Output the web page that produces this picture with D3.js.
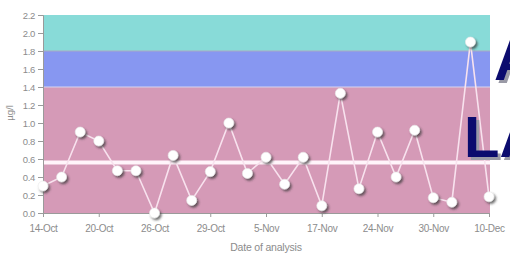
<!DOCTYPE html>
<html>
<head>
<meta charset="utf-8">
<script src="https://cdn.jsdelivr.net/npm/d3@7"></script>
<style>
  body { margin: 0; background: #fff; }
  svg { display: block; }
  .axis text { font-family: "Liberation Sans", Arial, sans-serif; fill: #8c8c8c; }
  .axis path, .axis line { stroke: #9a9a9a; }
</style>
</head>
<body>
<div id="figure"></div>
<script>
// measured values, one per analysis date
var values = [0.30, 0.40, 0.90, 0.80, 0.47, 0.47, 0.00, 0.64, 0.14, 0.46, 1.00, 0.44, 0.62,
              0.32, 0.62, 0.08, 1.33, 0.27, 0.90, 0.40, 0.92, 0.17, 0.12, 1.90, 0.18];
var tickIdx = [0, 3, 6, 9, 12, 15, 18, 21, 24];
var tickLabels = ["14-Oct", "20-Oct", "26-Oct", "29-Oct", "5-Nov", "17-Nov", "24-Nov", "30-Nov", "10-Dec"];
var yTicks = [0.0, 0.2, 0.4, 0.6, 0.8, 1.0, 1.2, 1.4, 1.6, 1.8, 2.0, 2.2];
var bandLow = [0, 1.4, 1.8];
var bandHigh = [1.4, 1.8, 2.2];
var bandColors = ["#d59ab7", "#8797f1", "#88dbd8"];
var refLevel = 0.56;

var w = 510, h = 257;
var padLeft = 43, padRight = 489, padTop = 15, padBottom = 213;

var svg = d3.select("#figure").append("svg")
    .attr("width", w)
    .attr("height", h);

var defs = svg.append("defs");
var shadow = defs.append("filter").attr("id", "shadow")
    .attr("x", "-50%").attr("y", "-50%").attr("width", "200%").attr("height", "200%");
shadow.append("feDropShadow")
    .attr("dx", 1.8).attr("dy", 2)
    .attr("stdDeviation", 1.1)
    .attr("flood-color", "#333")
    .attr("flood-opacity", 0.7);

var xScale = d3.scalePoint()
    .domain(d3.range(values.length))
    .range([padLeft, padRight]);

var yScale = d3.scaleLinear()
    .domain([0, 2.2])
    .range([padBottom, padTop]);

// coloured bands
svg.selectAll("rect.band")
    .data(bandLow)
    .enter()
    .append("rect")
    .attr("class", "band")
    .attr("x", padLeft)
    .attr("width", padRight - padLeft + 1)
    .attr("y", function(d, i) { return yScale(bandHigh[i]); })
    .attr("height", function(d, i) { return yScale(d) - yScale(bandHigh[i]); })
    .attr("fill", function(d, i) { return bandColors[i]; });

svg.append("line")
    .attr("x1", padLeft).attr("x2", padRight + 1)
    .attr("y1", yScale(1.4)).attr("y2", yScale(1.4))
    .attr("stroke", "#d8d4f0").attr("stroke-width", 1);
svg.append("line")
    .attr("x1", padLeft).attr("x2", padRight + 1)
    .attr("y1", yScale(1.8)).attr("y2", yScale(1.8))
    .attr("stroke", "#a9a9c4").attr("stroke-width", 1);

// reference line
svg.append("line")
    .attr("x1", padLeft).attr("x2", padRight + 1)
    .attr("y1", yScale(refLevel)).attr("y2", yScale(refLevel))
    .attr("stroke", "#fff4fa").attr("stroke-width", 4);

// axes
var xAxis = d3.axisBottom(xScale)
    .tickValues(tickIdx)
    .tickSize(4)
    .tickPadding(8)
    .tickFormat(function(d, i) { return tickLabels[i]; });

var gx = svg.append("g")
    .attr("class", "axis")
    .attr("transform", "translate(0," + padBottom + ")")
    .call(xAxis);
gx.selectAll("text").style("font-size", "10px").attr("letter-spacing", "-0.3");

var yAxis = d3.axisLeft(yScale)
    .tickValues(yTicks)
    .tickSize(5)
    .tickPadding(3)
    .tickFormat(d3.format(".1f"));

var gy = svg.append("g")
    .attr("class", "axis")
    .attr("transform", "translate(" + padLeft + ",0)")
    .call(yAxis);
gy.selectAll("text").style("font-size", "9.5px").attr("letter-spacing", "-0.3");

svg.append("text")
    .attr("transform", "translate(13,113) rotate(-90)")
    .attr("text-anchor", "middle")
    .style("font-family", "Liberation Sans, Arial, sans-serif")
    .style("font-size", "9.5px")
    .attr("fill", "#8c8c8c")
    .text("µg/l");

svg.append("text")
    .attr("x", 266)
    .attr("y", 251)
    .attr("text-anchor", "middle")
    .style("font-family", "Liberation Sans, Arial, sans-serif")
    .style("font-size", "10.5px")
    .attr("letter-spacing", "-0.2")
    .attr("fill", "#8c8c8c")
    .text("Date of analysis");

// data line
svg.append("path")
    .datum(values)
    .attr("fill", "none")
    .attr("stroke", "#f8e2ee")
    .attr("stroke-width", 1.6)
    .attr("d", d3.line()
        .x(function(d, i) { return xScale(i); })
        .y(function(d) { return yScale(d); }));

svg.selectAll("circle.pt")
    .data(values)
    .enter()
    .append("circle")
    .attr("class", "pt")
    .attr("cx", function(d, i) { return xScale(i); })
    .attr("cy", function(d) { return yScale(d); })
    .attr("r", 5)
    .attr("fill", "#ffffff")
    .attr("stroke", "#e8e8e8")
    .attr("stroke-width", 0.6)
    .attr("filter", "url(#shadow)");

// title letters cut off at the right edge
var bigText = [{ t: "A", x: 494, y: 80 }, { t: "LA", x: 464, y: 157 }];
bigText.forEach(function(b) {
    svg.append("text")
        .attr("x", b.x + 3).attr("y", b.y + 3)
        .style("font-family", "Liberation Sans, Arial, sans-serif")
        .style("font-size", "58px").style("font-weight", "bold")
        .attr("fill", "#9a9aa6")
        .text(b.t);
    svg.append("text")
        .attr("x", b.x).attr("y", b.y)
        .style("font-family", "Liberation Sans, Arial, sans-serif")
        .style("font-size", "58px").style("font-weight", "bold")
        .attr("fill", "#0b0b6e")
        .text(b.t);
});
</script>
</body>
</html>
